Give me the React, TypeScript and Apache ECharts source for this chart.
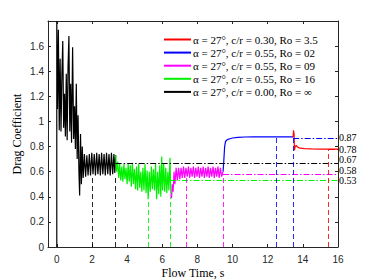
import React, { useEffect, useRef } from "react";
import * as echarts from "echarts";

// ---- data ----
const xTicks = [0, 2, 4, 6, 8, 10, 12, 14, 16];

const seriesNames = [
  "α = 27°, c/r = 0.30, Ro = 3.5",
  "α = 27°, c/r = 0.55, Ro = 02",
  "α = 27°, c/r = 0.55, Ro = 09",
  "α = 27°, c/r = 0.55, Ro = 16",
  "α = 27°, c/r = 0.00, Ro = ∞",
];

const blackData = [
  [0, 0], [0, 1.8], [0.04, 1.1], [0.09, 1.73], [0.14, 0.93], [0.19, 1.5], [0.24, 0.92], [0.29, 1.37],
  [0.34, 1.64], [0.39, 0.95], [0.44, 1.22], [0.49, 0.88], [0.54, 1.38], [0.59, 0.85], [0.64, 1.43],
  [0.69, 1.68], [0.74, 0.92], [0.79, 1.3], [0.84, 0.83], [0.9, 1.59], [0.96, 0.86], [1.01, 1.12],
  [1.06, 0.78], [1.11, 1.3], [1.16, 0.7], [1.21, 1.05], [1.26, 0.6], [1.3, 0.41], [1.35, 0.9],
  [1.4, 0.5], [1.45, 0.8], [1.5, 0.55], [1.57, 0.74], [1.64, 0.56], [1.71, 0.73], [1.78, 0.57],
  [1.85, 0.74], [1.92, 0.57], [1.99, 0.75], [2.06, 0.58], [2.13, 0.74], [2.2, 0.57], [2.27, 0.75],
  [2.34, 0.58], [2.41, 0.74], [2.48, 0.57], [2.55, 0.75], [2.62, 0.58], [2.69, 0.74], [2.76, 0.57],
  [2.83, 0.75], [2.9, 0.58], [2.97, 0.74], [3.04, 0.57], [3.11, 0.75], [3.18, 0.58], [3.25, 0.74],
  [3.3, 0.59], [3.35, 0.73],
];

const greenData = [
  [3.35, 0.73], [3.4, 0.6], [3.46, 0.68], [3.52, 0.55], [3.58, 0.66], [3.64, 0.53], [3.7, 0.64],
  [3.76, 0.52], [3.82, 0.66], [3.88, 0.54], [3.94, 0.63], [4.0, 0.5], [4.06, 0.66], [4.12, 0.52],
  [4.18, 0.65], [4.24, 0.48], [4.3, 0.67], [4.36, 0.5], [4.42, 0.62], [4.48, 0.46], [4.54, 0.64],
  [4.6, 0.45], [4.66, 0.66], [4.72, 0.47], [4.78, 0.6], [4.84, 0.44], [4.9, 0.63], [4.96, 0.45],
  [5.02, 0.66], [5.08, 0.43], [5.14, 0.61], [5.2, 0.38], [5.26, 0.6], [5.32, 0.44], [5.38, 0.64],
  [5.44, 0.46], [5.5, 0.62], [5.56, 0.45], [5.62, 0.66], [5.68, 0.38], [5.74, 0.6], [5.8, 0.42],
  [5.86, 0.65], [5.92, 0.4], [5.97, 0.72], [6.02, 0.45], [6.08, 0.66], [6.14, 0.44], [6.2, 0.63],
  [6.26, 0.43], [6.32, 0.6], [6.38, 0.45], [6.44, 0.71], [6.49, 0.42],
];

const magentaData = [
  [6.49, 0.42], [6.53, 0.39], [6.57, 0.5], [6.62, 0.44], [6.67, 0.6], [6.72, 0.5], [6.79, 0.63],
  [6.86, 0.53], [6.93, 0.63], [7.0, 0.54], [7.07, 0.63], [7.14, 0.55], [7.21, 0.64], [7.28, 0.55],
  [7.35, 0.63], [7.42, 0.56], [7.49, 0.64], [7.56, 0.55], [7.63, 0.63], [7.7, 0.56], [7.77, 0.64],
  [7.84, 0.55], [7.91, 0.63], [7.98, 0.56], [8.05, 0.64], [8.12, 0.55], [8.19, 0.63], [8.26, 0.56],
  [8.33, 0.64], [8.4, 0.55], [8.47, 0.63], [8.54, 0.56], [8.61, 0.64], [8.68, 0.55], [8.75, 0.63],
  [8.82, 0.56], [8.89, 0.64], [8.96, 0.55], [9.03, 0.63], [9.1, 0.56], [9.17, 0.64], [9.24, 0.55],
  [9.31, 0.63], [9.38, 0.56], [9.46, 0.6],
];

const blueData = [
  [9.46, 0.6], [9.5, 0.68], [9.55, 0.8], [9.6, 0.84], [9.7, 0.855], [9.85, 0.862], [10.0, 0.868],
  [10.3, 0.873], [10.7, 0.876], [11.2, 0.877], [12.0, 0.877], [13.0, 0.877], [13.45, 0.877],
];

const redData = [
  [13.45, 0.877], [13.47, 0.93], [13.5, 0.9], [13.52, 0.77], [13.56, 0.8], [13.62, 0.81],
  [13.7, 0.795], [13.85, 0.787], [14.1, 0.783], [14.5, 0.781], [15.0, 0.78], [15.5, 0.78], [16.0, 0.78],
];

// averaging windows (vertical dashed lines) and mean values
const redWindows = [15.47];
const redWindowTops = [0.78];
const redMean = 0.78;
const blueWindows = [12.46, 13.45];
const blueWindowTops = [0.877, 0.877];
const blueMean = 0.87;
const magentaWindows = [7.36, 9.46];
const magentaWindowTops = [0.555, 0.57];
const magentaMean = 0.58;
const greenWindows = [5.18, 6.47];
const greenWindowTops = [0.38, 0.4];
const greenMean = 0.53;
const blackWindows = [2.0, 3.35];
const blackWindowTops = [0.57, 0.57];
const blackMean = 0.67;

// ---- styles ----
const serif = "Liberation Serif";
const sans = "Liberation Sans";
const axisColor = "#262626";

export default function App() {
  const ref = useRef<HTMLDivElement>(null);

  useEffect(() => {
    const chart = echarts.init(ref.current!, null, { renderer: "svg" });

    const runs = [
      { name: seriesNames[4], color: "#000000", data: blackData, win: blackWindows, tops: blackWindowTops, mean: blackMean },
      { name: seriesNames[3], color: "#00f000", data: greenData, win: greenWindows, tops: greenWindowTops, mean: greenMean },
      { name: seriesNames[2], color: "#ff00ff", data: magentaData, win: magentaWindows, tops: magentaWindowTops, mean: magentaMean },
      { name: seriesNames[1], color: "#0000ff", data: blueData, win: blueWindows, tops: blueWindowTops, mean: blueMean },
      { name: seriesNames[0], color: "#ff0000", data: redData, win: redWindows, tops: redWindowTops, mean: redMean },
    ];

    const xMax = xTicks[xTicks.length - 1];

    // mean-value labels on the right, spread so they do not overlap
    const means = runs.map((r) => r.mean).sort((a, b) => a - b);
    const labelPos: number[] = [];
    means.forEach((m, i) => {
      labelPos.push(i === 0 ? m : Math.max(m, labelPos[i - 1] + 0.082));
    });

    const series: any[] = runs.map((r) => {
      const dashStyle = { color: r.color, width: 1, type: [5, 3], opacity: 0.85 };
      const dotDashStyle = { color: r.color, width: 1, type: [6, 2, 1.5, 2] };
      return {
        type: "line",
        name: r.name,
        data: r.data,
        showSymbol: false,
        symbol: "none",
        color: r.color,
        lineStyle: { color: r.color, width: 1.2 },
        emphasis: { disabled: true },
        markLine: {
          silent: true,
          symbol: ["none", "none"],
          label: { show: false },
          emphasis: { disabled: true },
          animation: false,
          data: [
            ...r.win.map((t, i) => [
              { coord: [t, 0], lineStyle: dashStyle },
              { coord: [t, r.tops[i]], lineStyle: dashStyle },
            ]),
            [
              { coord: [r.win[r.win.length - 1], r.mean], lineStyle: dotDashStyle },
              { coord: [xMax, r.mean], lineStyle: dotDashStyle },
            ],
          ],
        },
      };
    });

    const option: any = {
      animation: false,
      backgroundColor: "#ffffff",
      grid: { left: 48, right: 36, top: 21, bottom: 33, containLabel: false, outerBoundsMode: "none" },
      legend: {
        data: seriesNames,
        orient: "vertical",
        left: 159,
        top: 29,
        icon: "rect",
        itemWidth: 27,
        itemHeight: 2,
        itemGap: 2.1,
        textStyle: { fontFamily: serif, fontSize: 11, color: "#000", padding: [0, 0, 0, -3], lineHeight: 11 },
        selectedMode: false,
      },
      xAxis: [
        {
          type: "value",
          min: -0.5,
          max: 16,
          name: "Flow Time, s",
          nameLocation: "middle",
          nameGap: 20,
          nameMoveOverlap: false,
          nameTextStyle: { fontFamily: serif, fontSize: 12, color: "#000" },
          axisLine: { show: true, onZero: false, lineStyle: { color: axisColor, width: 1 } },
          axisTick: { show: true, inside: true, length: 3, customValues: xTicks, lineStyle: { color: axisColor } },
          axisLabel: { customValues: xTicks, fontFamily: sans, fontSize: 10, color: axisColor, margin: 7 },
          splitLine: { show: false },
        },
        {
          type: "value",
          position: "top",
          min: -0.5,
          max: 16,
          axisLine: { show: true, onZero: false, lineStyle: { color: axisColor, width: 1 } },
          axisTick: { show: true, inside: true, length: 3, customValues: xTicks, lineStyle: { color: axisColor } },
          axisLabel: { show: false },
          splitLine: { show: false },
        },
      ],
      yAxis: [
        {
          type: "value",
          min: 0,
          max: 1.8,
          interval: 0.2,
          name: "Drag Coefficient",
          nameLocation: "middle",
          nameGap: 25,
          nameMoveOverlap: false,
          nameTextStyle: { fontFamily: serif, fontSize: 12, color: "#000" },
          axisLine: { show: true, onZero: false, lineStyle: { color: axisColor, width: 1 } },
          axisTick: { show: true, inside: true, length: 3, lineStyle: { color: axisColor } },
          axisLabel: {
            fontFamily: sans,
            fontSize: 10,
            color: axisColor,
            margin: 4,
            showMaxLabel: false,
            formatter: (v: number) => (Math.abs(v - Math.round(v)) < 1e-9 ? String(Math.round(v)) : v.toFixed(1)),
          },
          splitLine: { show: false },
        },
        {
          type: "value",
          position: "right",
          min: 0,
          max: 1.8,
          interval: 0.2,
          axisLine: { show: true, onZero: false, lineStyle: { color: axisColor, width: 1 } },
          axisTick: { show: true, inside: true, length: 3, lineStyle: { color: axisColor } },
          axisLabel: { show: false },
          splitLine: { show: false },
        },
        {
          type: "value",
          position: "right",
          min: 0,
          max: 1.8,
          axisLine: { show: false },
          axisTick: { show: false },
          splitLine: { show: false },
          axisLabel: {
            customValues: labelPos,
            hideOverlap: false,
            margin: 1,
            fontFamily: serif,
            fontSize: 10,
            color: "#000",
            formatter: (v: number) => {
              const i = labelPos.findIndex((p) => Math.abs(p - v) < 1e-6);
              return i >= 0 ? means[i].toFixed(2) : "";
            },
          },
        },
      ],
      series,
    };

    chart.setOption(option);
    return () => chart.dispose();
  }, []);

  return <div ref={ref} style={{ position: "fixed", left: 0, top: 0, width: 374, height: 280 }} />;
}
